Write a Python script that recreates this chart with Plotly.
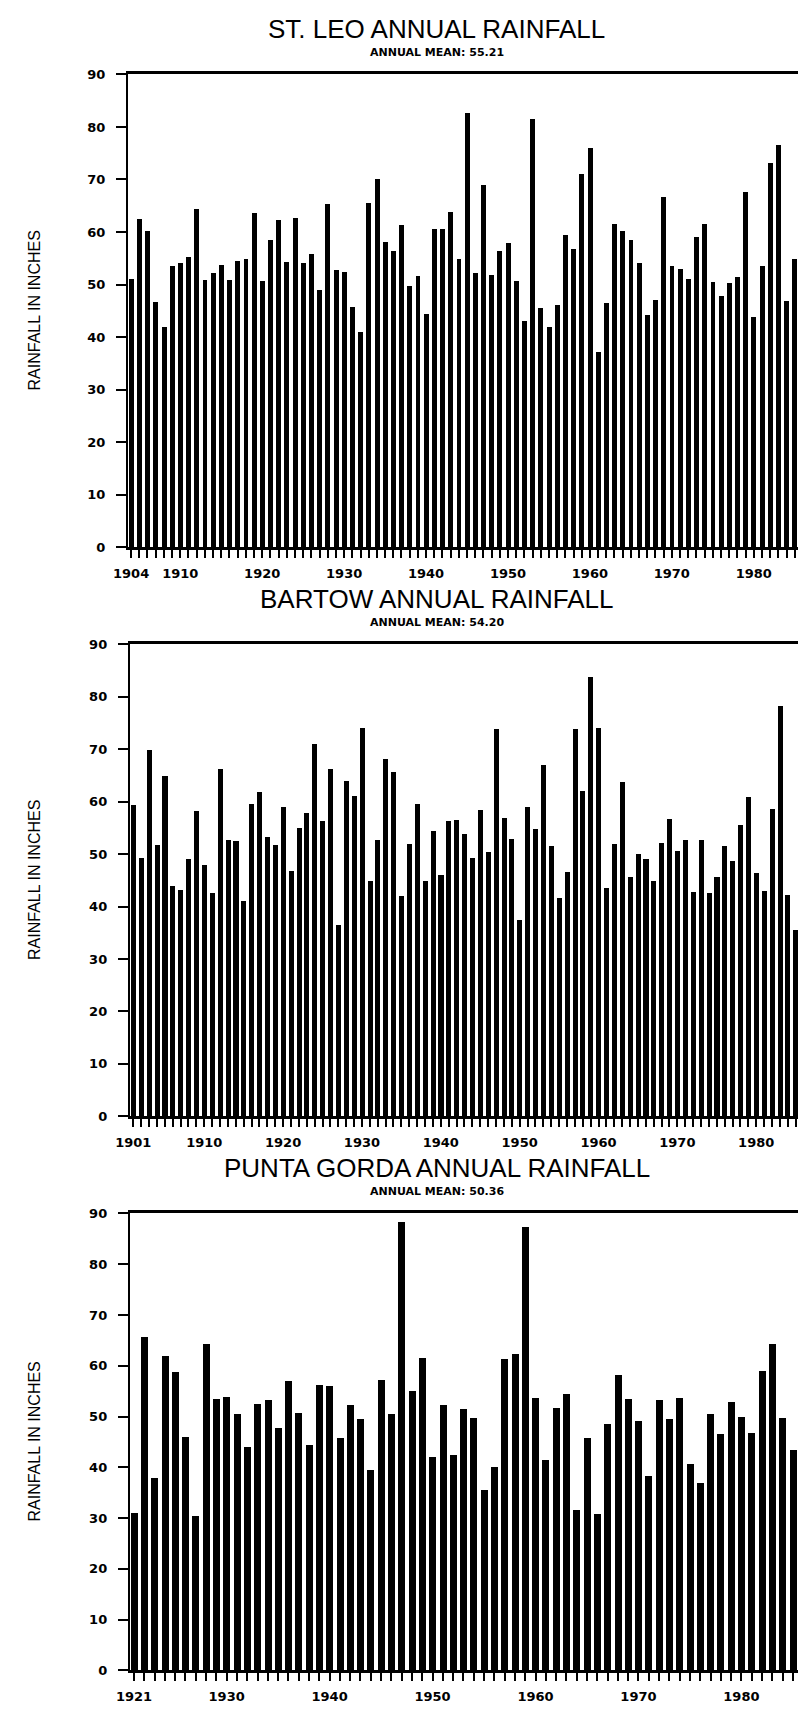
import plotly.graph_objects as go

W, H = 798, 1726

# ---- data -------------------------------------------------------------
st_leo_years = list(range(1904, 1986))
st_leo_rain = [
    50.9, 62.4, 60.2, 46.6, 41.9, 53.4, 54.0, 55.1, 64.3, 50.8,
    52.1, 53.7, 50.8, 54.4, 54.7, 63.6, 50.6, 58.4, 62.2, 54.3,
    62.5, 54.0, 55.7, 48.9, 65.2, 52.7, 52.3, 45.7, 40.8, 65.4,
    70.0, 58.0, 56.3, 61.2, 49.6, 51.5, 44.3, 60.5, 60.5, 63.8,
    54.8, 82.5, 52.2, 68.9, 51.8, 56.4, 57.9, 50.6, 43.0, 81.4,
    45.5, 41.9, 46.0, 59.4, 56.6, 70.9, 75.9, 37.0, 46.5, 61.5,
    60.2, 58.4, 54.1, 44.1, 46.9, 66.5, 53.5, 52.9, 51.0, 59.0,
    61.4, 50.5, 47.7, 50.2, 51.3, 67.5, 43.7, 53.5, 73.1, 76.5,
    46.8, 54.7,
]
st_leo_labels = ["1904", "1910", "1920", "1930", "1940", "1950", "1960", "1970", "1980"]

bartow_years = list(range(1901, 1986))
bartow_rain = [
    59.2, 49.2, 69.7, 51.7, 64.9, 43.9, 43.1, 48.9, 58.1, 47.8,
    42.6, 66.1, 52.6, 52.5, 41.0, 59.5, 61.7, 53.1, 51.7, 59.0,
    46.7, 54.9, 57.8, 71.0, 56.2, 66.1, 36.5, 63.9, 61.0, 74.0,
    44.8, 52.7, 68.0, 65.6, 42.0, 51.8, 59.5, 44.8, 54.4, 45.9,
    56.2, 56.4, 53.8, 49.2, 58.3, 50.3, 73.7, 56.8, 52.9, 37.3,
    59.0, 54.8, 66.9, 51.5, 41.6, 46.5, 73.8, 61.9, 83.7, 74.0,
    43.4, 51.8, 63.7, 45.5, 49.9, 49.0, 44.8, 52.0, 56.6, 50.6,
    52.6, 42.7, 52.6, 42.5, 45.5, 51.5, 48.6, 55.5, 60.8, 46.3,
    42.8, 58.6, 78.2, 42.1, 35.4,
]
bartow_labels = ["1901", "1910", "1920", "1930", "1940", "1950", "1960", "1970", "1980"]

punta_gorda_years = list(range(1921, 1986))
punta_gorda_rain = [
    30.9, 65.5, 37.8, 61.9, 58.6, 45.9, 30.4, 64.2, 53.3, 53.7,
    50.4, 44.0, 52.4, 53.1, 47.7, 56.9, 50.6, 44.4, 56.1, 55.9,
    45.7, 52.2, 49.4, 39.4, 57.1, 50.4, 88.3, 55.0, 61.5, 41.9,
    52.1, 42.4, 51.4, 49.6, 35.5, 39.9, 61.2, 62.3, 87.2, 53.5,
    41.4, 51.5, 54.3, 31.5, 45.6, 30.7, 48.5, 58.1, 53.4, 49.0,
    38.2, 53.1, 49.4, 53.5, 40.5, 36.9, 50.4, 46.4, 52.8, 49.9,
    46.6, 58.8, 64.3, 49.6, 43.3,
]
punta_gorda_labels = ["1921", "1930", "1940", "1950", "1960", "1970", "1980"]

titles = ["ST. LEO ANNUAL RAINFALL", "BARTOW ANNUAL RAINFALL", "PUNTA GORDA ANNUAL RAINFALL"]
means = ["ANNUAL MEAN: 55.21", "ANNUAL MEAN: 54.20", "ANNUAL MEAN: 50.36"]
y_ticks = [0, 10, 20, 30, 40, 50, 60, 70, 80, 90]
y_title = "RAINFALL IN INCHES"

# ---- layout geometry (pixels) ------------------------------------------
panels = [
    dict(years=st_leo_years, rain=st_leo_rain, labels=st_leo_labels,
         top=68, bottom=545, left=115, xrange=[1903.6, 1985.4], bw=0.6),
    dict(years=bartow_years, rain=bartow_rain, labels=bartow_labels,
         top=643, bottom=1119, left=117, xrange=[1900.56, 1985.3], bw=0.64),
    dict(years=punta_gorda_years, rain=punta_gorda_rain, labels=punta_gorda_labels,
         top=1217, bottom=1678, left=117, xrange=[1920.59, 1985.5], bw=0.68),
]


def py(px):
    return 1 - px / H


x_tick_font = dict(family="DejaVu Sans", size=13, color="black", weight="bold")
y_tick_font = dict(family="DejaVu Sans", size=13, color="black", weight="bold")

fig = go.Figure()
layout = dict(
    width=W, height=H,
    margin=dict(l=0, r=0, t=0, b=0),
    paper_bgcolor="white", plot_bgcolor="white",
    showlegend=False,
    bargap=0,
)
annotations = []

for i, p in enumerate(panels, start=1):
    sfx = "" if i == 1 else str(i)
    fig.add_trace(go.Bar(
        x=p["years"], y=p["rain"], width=p["bw"],
        marker=dict(color="black", line=dict(width=0)),
        xaxis="x" + sfx, yaxis="y" + sfx,
    ))
    text_for = [str(y) if str(y) in p["labels"] else "" for y in p["years"]]
    layout["xaxis" + sfx] = dict(
        domain=[p["left"] / W, 1], range=p["xrange"], anchor="y" + sfx,
        tickmode="array", tickvals=p["years"], ticktext=text_for,
        ticks="outside", ticklen=8, tickwidth=1.5, tickcolor="black",
        ticklabelstandoff=4, tickangle=0,
        showline=True, linewidth=2.5, linecolor="black", mirror=True,
        showgrid=False, zeroline=False, tickfont=x_tick_font,
    )
    layout["yaxis" + sfx] = dict(
        domain=[py(p["bottom"]), py(p["top"])], range=[0, 90], anchor="x" + sfx,
        tickmode="array", tickvals=y_ticks,
        ticks="outside", ticklen=10, tickwidth=1.5, tickcolor="black",
        ticklabelstandoff=8,
        showline=True, linewidth=2, linecolor="black",
        showgrid=False, zeroline=False, tickfont=y_tick_font,
    )
    annotations.append(dict(
        text=titles[i - 1], xref="paper", yref="paper",
        x=430 / W, y=py(p["top"] - 46), xanchor="center", yanchor="middle",
        showarrow=False, borderpad=0,
        font=dict(family="Liberation Sans", size=26, color="black"),
    ))
    annotations.append(dict(
        text=means[i - 1], xref="paper", yref="paper",
        x=430 / W, y=py(p["top"] - 22), xanchor="center", yanchor="middle",
        showarrow=False, borderpad=0,
        font=dict(family="DejaVu Sans", size=11, color="black", weight="bold"),
    ))
    annotations.append(dict(
        text=y_title, xref="paper", yref="paper",
        x=20 / W, y=py((p["top"] + p["bottom"]) / 2),
        xanchor="center", yanchor="middle", textangle=-90,
        showarrow=False,
        font=dict(family="Liberation Sans", size=16, color="black"),
    ))

layout["annotations"] = annotations
fig.update_layout(**layout)
fig.write_html("out.html")
